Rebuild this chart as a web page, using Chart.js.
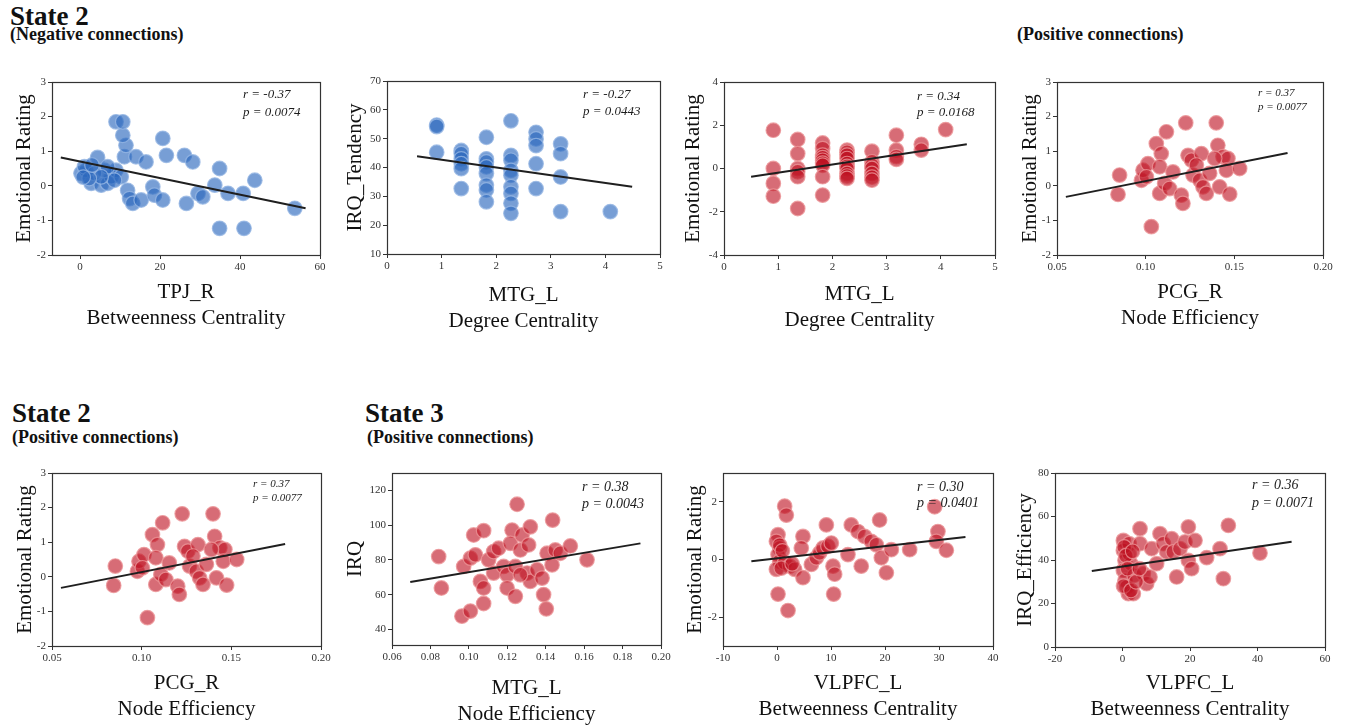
<!DOCTYPE html>
<html>
<head>
<meta charset="utf-8">
<script src="https://cdn.jsdelivr.net/npm/chart.js@4.4.1/dist/chart.umd.min.js"></script>
<style>
  html, body { margin: 0; padding: 0; background: #ffffff; overflow: hidden; }
  body { width: 1348px; height: 725px; position: relative;
         font-family: "Liberation Serif", "Times New Roman", serif; color: #111; }
  .head { position: absolute; font-weight: bold; white-space: nowrap; line-height: 1; }
  .state { font-size: 27px; }
  .sub { font-size: 18px; }
  canvas { position: absolute; }
</style>
</head>
<body>
<div class="head state" style="left:10px;top:3px">State 2</div>
<div class="head sub" style="left:10px;top:25px">(Negative connections)</div>
<div class="head sub" style="left:1017px;top:25px">(Positive connections)</div>
<div class="head state" style="left:12px;top:400px">State 2</div>
<div class="head sub" style="left:12px;top:428px">(Positive connections)</div>
<div class="head state" style="left:365px;top:400px">State 3</div>
<div class="head sub" style="left:367px;top:428px">(Positive connections)</div>

<script>
// ---------- State 2, negative connections: TPJ_R betweenness vs emotional rating ----------
const tpjBetweenness = [0.25,1.5,4.4,2.8,5.3,6.9,7.8,9.0,10.3,11.1,11.5,10.7,9.0,10.7,6.1,1.1,3.6,11.9,12.4,13.2,
  15.3,14.0,16.5,18.2,18.6,20.7,20.7,21.6,26.1,28.2,26.6,29.5,30.7,34.9,33.7,37.0,40.8,43.7,34.9,41.0,
  53.7,6.9,8.6,5.3,2.3,0.8,3.0];
const tpjEmotion = [0.36,0.45,0.82,0.07,0.02,0.07,0.26,0.45,0.26,0.84,1.17,1.46,1.85,1.85,0.45,0.55,0.36,-0.13,-0.37,-0.51,
  -0.41,0.84,0.69,-0.03,-0.27,-0.41,1.37,0.88,0.88,0.69,-0.51,-0.22,-0.32,0.50,0.02,-0.22,-0.22,0.16,-1.23,-1.23,
  -0.65,0.55,0.16,0.26,0.21,0.25,0.60];
const fitTpjX = [-4.8, 56.4];
const fitTpjY = [0.82, -0.65];
const statTpj = ['r = -0.37', 'p = 0.0074'];

// ---------- State 2, negative connections: MTG_L degree vs IRQ_Tendency ----------
const mtgDegreeNeg = [0.91,0.91,0.91, 1.36,1.36,1.36,1.36,1.36,1.36,
  1.82,1.82,1.82,1.82,1.82,1.82,1.82,1.82, 2.27,2.27,2.27,2.27,2.27,2.27,2.27,2.27,2.27,
  2.73,2.73,2.73,2.73,2.73, 3.18,3.18,3.18,3.18, 4.09];
const irqTendency = [54.7,54.2,45.3, 45.9,44.8,43.0,41.3,39.6,32.7,
  50.5,43.0,41.9,40.2,37.9,33.9,32.2,28.1, 56.2,44.2,42.5,39.0,37.3,33.3,31.0,27.6,24.1,
  52.2,49.9,47.6,41.3,32.7, 48.2,44.8,36.7,24.7, 24.7];
const fitDegNegX = [0.55, 4.49];
const fitDegNegY = [43.9, 33.3];
const statDegNeg = ['r = -0.27', 'p = 0.0443'];

// ---------- State 2, positive connections: MTG_L degree vs emotional rating ----------
const mtgDegreePos = [0.91,0.91,0.91,0.91, 1.36,1.36,1.36,1.36,1.36,1.36,
  1.82,1.82,1.82,1.82,1.82,1.82,1.82,1.82,1.82, 2.27,2.27,2.27,2.27,2.27,2.27,2.27,2.27,2.27,2.27,
  2.73,2.73,2.73,2.73,2.73,2.73,2.73, 3.18,3.18,3.18,3.18, 3.64,3.64, 4.09];
const mtgEmotion = [1.77,0,-0.69,-1.28, 1.34,0.69,0,-0.15,-0.38,-1.85,
  1.18,0.92,0.62,0.50,0.38,0.25,0.15,-0.38,-1.23, 0.85,0.75,0.62,0.46,0.23,0.10,0,-0.23,-0.35,-0.46,
  0.80,0.31,0.15,0,-0.23,-0.40,-0.54, 1.54,0.85,0.55,0.42, 1.12,0.85, 1.80];
const fitDegPosX = [0.5, 4.48];
const fitDegPosY = [-0.38, 1.12];
const statDegPos = ['r = 0.34', 'p = 0.0168'];

// ---------- State 2, positive connections: PCG_R node efficiency vs emotional rating ----------
const pcgEfficiency = [0.0853,0.0844,0.0976,0.0985,0.1013,0.1004,0.1060,0.1088,0.1117,0.1032,
  0.1079,0.1079,0.1107,0.1135,0.1154,0.1201,0.1210,0.1226,0.1239,0.1258,
  0.1267,0.1314,0.1305,0.1323,0.1342,0.1361,0.1398,0.1407,0.1417,0.1436,
  0.1464,0.1455,0.1474,0.1530,0.1389,0.1286];
const pcgEmotion = [0.31,-0.25,0.16,0.45,0.64,0.26,1.22,0.93,1.56,-1.18,
  0.55,-0.22,0.07,-0.08,0.40,-0.27,-0.51,1.82,0.88,0.74,
  0.31,0.93,0.16,-0.03,-0.22,0.36,1.82,1.17,-0.03,0.84,
  0.79,0.45,-0.24,0.50,0.79,0.60];
const fitPcgX = [0.055, 0.180];
const fitPcgY = [-0.32, 0.95];
const statPcg = ['r = 0.37', 'p = 0.0077'];

// ---------- State 3, positive connections: MTG_L node efficiency vs IRQ ----------
const mtgEfficiency = [0.0843,0.0857,0.0964,0.1008,0.0973,0.1008,0.1034,0.1025,0.1077,0.1060,
  0.1077,0.1077,0.1103,0.1129,0.1155,0.1129,0.1181,0.1199,0.1199,0.1225,
  0.1216,0.1242,0.1251,0.1268,0.1277,0.1303,0.1311,0.1320,0.1320,0.1355,
  0.1381,0.1389,0.1403,0.1407,0.1433,0.1436,0.1450,0.1476,0.1528,0.1615,
  0.1242,0.1268];
const irqTotal = [81.9,63.8,47.6,50.5,76.2,81.0,82.9,94.3,96.8,67.6,
  63.8,54.9,80.0,84.8,86.7,72.4,76.2,71.4,63.8,97.1,
  89.5,59.0,112.0,85.7,94.3,72.4,88.6,99.0,67.6,74.3,
  69.5,60.0,51.8,83.8,77.1,102.9,85.7,83.8,88.0,80.0,
  76.2,71.4];
const fitMtgEffX = [0.0695, 0.1893];
const fitMtgEffY = [67.2, 89.5];
const statMtgEff = ['r = 0.38', 'p = 0.0043'];

// ---------- State 3, positive connections: VLPFC_L betweenness vs emotional rating ----------
const vlpfcBetweenEmo = [0.19,-0.12,0.49,0.19,0.49,-0.12,0.19,1.42,1.73,1.42,
  2.04,2.35,3.27,4.81,4.50,4.81,6.36,7.28,7.90,8.52,
  9.14,9.44,10.06,10.37,10.68,10.49,13.14,13.75,14.99,15.60,
  16.23,17.46,18.40,19.00,19.32,20.25,21.17,24.57,29.20,29.80,
  29.50,31.36,0.50,0.80,1.00,2.80];
const vlpfcEmotion = [0.86,0.63,0.40,0.17,-0.06,-0.34,-1.20,1.85,1.54,-0.11,
  -1.77,-0.23,-0.34,0.80,0.40,-0.63,-0.17,0.06,0.23,0.40,
  1.20,0.46,0.57,-0.23,-0.51,-1.20,0.17,1.20,0.97,-0.23,
  0.80,0.63,0.51,1.37,0.06,-0.46,0.34,0.34,1.83,0.97,
  0.63,0.32,0.50,-0.30,0.30,-0.15];
const fitVlpfcEmoX = [-4.75, 34.9];
const fitVlpfcEmoY = [-0.06, 0.78];
const statVlpfcEmo = ['r = 0.30', 'p = 0.0401'];

// ---------- State 3, positive connections: VLPFC_L betweenness vs IRQ_Efficiency ----------
const vlpfcBetweenIrq = [0.25,0.25,0.74,0.25,0.74,1.23,1.73,3.21,1.98,2.47,
  3.46,5.19,5.19,6.17,7.16,8.15,8.64,10.12,11.11,12.10,
  13.09,14.57,15.06,16.05,17.04,18.52,19.51,19.51,20.49,21.48,
  24.94,28.89,29.88,31.36,40.74,1.98,0.50,1.00,1.50,0.30,
  2.50,4.00,5.00,3.00];
const irqEfficiency = [49.0,44.4,39.8,35.2,30.7,27.6,24.5,24.5,47.5,38.3,
  33.0,54.4,47.5,33.7,29.1,32.2,45.2,38.3,52.1,47.5,
  43.7,49.8,43.7,32.2,45.2,48.3,55.2,39.8,36.0,49.0,
  41.1,45.2,31.4,55.9,43.2,42.9,46.0,42.0,36.0,28.0,
  26.0,30.0,36.0,44.0];
const fitVlpfcIrqX = [-9.1, 50.1];
const fitVlpfcIrqY = [34.9, 48.4];
const statVlpfcIrq = ['r = 0.36', 'p = 0.0071'];

// ---------- axis tick labels ----------
const tpjXTicks = ['0','20','40','60'];
const ratingYTicks = ['-2','-1','0','1','2','3'];
const degreeXTicks = ['0','1','2','3','4','5'];
const tendencyYTicks = ['10','20','30','40','50','60','70'];
const wideRatingYTicks = ['-4','-2','0','2','4'];
const pcgXTicks = ['0.05','0.10','0.15','0.20'];
const mtgEffXTicks = ['0.06','0.08','0.10','0.12','0.14','0.16','0.18','0.20'];
const irqYTicks = ['40','60','80','100','120'];
const vlpfcEmoXTicks = ['-10','0','10','20','30','40'];
const vlpfcEmoYTicks = ['-2','0','2'];
const vlpfcIrqXTicks = ['-20','0','20','40','60'];
const irqEffYTicks = ['0','20','40','60','80'];

// ---------- styling ----------
const SERIF = '"Liberation Serif", "Times New Roman", serif';
Chart.defaults.font.family = SERIF;
const BLUE = { fill: 'rgba(42,104,190,0.64)', edge: 'rgba(150,182,228,0.8)' };
const RED  = { fill: 'rgba(190,18,34,0.62)', edge: 'rgba(236,150,152,0.8)' };
const AXIS_COLOR = '#333333';
const Y_AXIS_W = 50, PAD_T = 10, PAD_R = 12, X_AXIS_H = 84;
const X_TITLE_SIZE = 21, X_TITLE_LH = 1.2, Y_TITLE_SIZE = 21;

const panels = [
  { box: [52, 82, 320, 255], xs: tpjBetweenness, ys: tpjEmotion, fx: fitTpjX, fy: fitTpjY, col: BLUE,
    xr: [-7, 60], yr: [-2, 3], xt: tpjXTicks, yt: ratingYTicks,
    xTitle: ['TPJ_R', 'Betweenness Centrality'], yTitle: 'Emotional Rating',
    stat: statTpj, statSize: 13, statDx: 77, statDy: [13, 31], yGap: 28, xLine2: 318 },
  { box: [387, 81, 660, 254], xs: mtgDegreeNeg, ys: irqTendency, fx: fitDegNegX, fy: fitDegNegY, col: BLUE,
    xr: [0, 5], yr: [10, 70], xt: degreeXTicks, yt: tendencyYTicks,
    xTitle: ['MTG_L', 'Degree Centrality'], yTitle: 'IRQ_Tendency',
    stat: statDegNeg, statSize: 13, statDx: 77, statDy: [14, 31], yGap: 32, xLine2: 321 },
  { box: [724, 82, 995, 255], xs: mtgDegreePos, ys: mtgEmotion, fx: fitDegPosX, fy: fitDegPosY, col: RED,
    xr: [0, 5], yr: [-4, 4], xt: degreeXTicks, yt: wideRatingYTicks,
    xTitle: ['MTG_L', 'Degree Centrality'], yTitle: 'Emotional Rating',
    stat: statDegPos, statSize: 13, statDx: 78, statDy: [15, 31], yGap: 31, xLine2: 320 },
  { box: [1057, 82, 1323, 255], xs: pcgEfficiency, ys: pcgEmotion, fx: fitPcgX, fy: fitPcgY, col: RED,
    xr: [0.05, 0.20], yr: [-2, 3], xt: pcgXTicks, yt: ratingYTicks,
    xTitle: ['PCG_R', 'Node Efficiency'], yTitle: 'Emotional Rating',
    stat: statPcg, statSize: 11, statDx: 65, statDy: [11, 25], yGap: 27, xLine2: 318 },
  { box: [52, 473, 321, 646], xs: pcgEfficiency, ys: pcgEmotion, fx: fitPcgX, fy: fitPcgY, col: RED,
    xr: [0.05, 0.20], yr: [-2, 3], xt: pcgXTicks, yt: ratingYTicks,
    xTitle: ['PCG_R', 'Node Efficiency'], yTitle: 'Emotional Rating',
    stat: statPcg, statSize: 11, statDx: 68, statDy: [11, 25], yGap: 27, xLine2: 709 },
  { box: [392, 473, 661, 645], xs: mtgEfficiency, ys: irqTotal, fx: fitMtgEffX, fy: fitMtgEffY, col: RED,
    xr: [0.06, 0.20], yr: [31, 130], xt: mtgEffXTicks, yt: irqYTicks,
    xTitle: ['MTG_L', 'Node Efficiency'], yTitle: 'IRQ',
    stat: statMtgEff, statSize: 14, statDx: 79, statDy: [14, 31], yGap: 37, xLine2: 714 },
  { box: [723, 473, 993, 646], xs: vlpfcBetweenEmo, ys: vlpfcEmotion, fx: fitVlpfcEmoX, fy: fitVlpfcEmoY, col: RED,
    xr: [-10, 40], yr: [-3, 3], xt: vlpfcEmoXTicks, yt: vlpfcEmoYTicks,
    xTitle: ['VLPFC_L', 'Betweenness Centrality'], yTitle: 'Emotional Rating',
    stat: statVlpfcEmo, statSize: 14, statDx: 76, statDy: [14, 30], yGap: 28, xLine2: 709 },
  { box: [1055, 473, 1325, 647], xs: vlpfcBetweenIrq, ys: irqEfficiency, fx: fitVlpfcIrqX, fy: fitVlpfcIrqY, col: RED,
    xr: [-20, 60], yr: [0, 80], xt: vlpfcIrqXTicks, yt: irqEffYTicks,
    xTitle: ['VLPFC_L', 'Betweenness Centrality'], yTitle: 'IRQ_Efficiency',
    stat: statVlpfcIrq, statSize: 14, statDx: 73, statDy: [12, 30], yGap: 30, xLine2: 709 }
];

function tickScale(labels, range, afterFitFn, title) {
  return {
    type: 'linear',
    min: range[0],
    max: range[1],
    afterBuildTicks: (s) => { s.ticks = labels.map(t => ({ value: Number(t) })); },
    afterFit: afterFitFn,
    ticks: {
      autoSkip: false, maxRotation: 0, minRotation: 0, padding: 2,
      color: AXIS_COLOR, font: { size: 11, family: SERIF },
      callback: (v) => {
        const hit = labels.find(t => Math.abs(Number(t) - v) < 1e-9);
        return hit === undefined ? '' : hit;
      }
    },
    grid: { display: true, drawOnChartArea: false, drawTicks: true, tickLength: 4, color: AXIS_COLOR, lineWidth: 1 },
    border: { display: true, color: AXIS_COLOR, width: 1 },
    title: title
  };
}

function buildPanel(p) {
  const [l, t, r, b] = p.box;
  const W = (r - l) + Y_AXIS_W + PAD_R;
  const H = (b - t) + PAD_T + X_AXIS_H;
  const cv = document.createElement('canvas');
  cv.width = W; cv.height = H;
  cv.style.left = (l - Y_AXIS_W) + 'px';
  cv.style.top = (t - PAD_T) + 'px';
  cv.style.width = W + 'px';
  cv.style.height = H + 'px';
  document.body.appendChild(cv);

  const xLineH = X_TITLE_SIZE * X_TITLE_LH;
  const xTitlePadBottom = (b + X_AXIS_H) - p.xLine2 - xLineH / 2;
  const yTitlePadTop = Y_AXIS_W - p.yGap - Y_TITLE_SIZE / 2;

  // r / p statistics in the upper right corner, plus a closed frame round the plot area
  const frameAndStats = {
    id: 'frameAndStats',
    afterDatasetsDraw(chart) {
      const { ctx, chartArea: a } = chart;
      ctx.save();
      ctx.fillStyle = '#1c1c1c';
      ctx.font = 'italic ' + p.statSize + 'px ' + SERIF;
      ctx.textAlign = 'left';
      ctx.textBaseline = 'middle';
      p.stat.forEach((s, i) => ctx.fillText(s, a.right - p.statDx, a.top + p.statDy[i]));
      ctx.restore();
    },
    afterDraw(chart) {
      const { ctx, chartArea: a } = chart;
      ctx.save();
      ctx.strokeStyle = AXIS_COLOR;
      ctx.lineWidth = 1.2;
      ctx.strokeRect(Math.round(a.left) + 0.5, Math.round(a.top) + 0.5,
                     Math.round(a.right - a.left), Math.round(a.bottom - a.top));
      ctx.restore();
    }
  };

  new Chart(cv, {
    type: 'scatter',
    data: {
      datasets: [
        {
          type: 'line',
          data: p.fx.map((x, i) => ({ x, y: p.fy[i] })),
          showLine: true,
          borderColor: '#1f1f1f',
          borderWidth: 2,
          pointRadius: 0,
          fill: false,
          tension: 0
        },
        {
          data: p.xs.map((x, i) => ({ x, y: p.ys[i] })),
          backgroundColor: p.col.fill,
          borderColor: p.col.edge,
          borderWidth: 1.2,
          pointRadius: 7.3
        }
      ]
    },
    options: {
      responsive: false,
      animation: false,
      events: [],
      layout: { padding: { left: 0, top: PAD_T, right: PAD_R, bottom: 0 } },
      plugins: { legend: { display: false }, tooltip: { enabled: false } },
      scales: {
        x: tickScale(p.xt, p.xr, (s) => { s.height = X_AXIS_H; }, {
          display: true, text: p.xTitle, color: '#111',
          font: { size: X_TITLE_SIZE, family: SERIF, lineHeight: X_TITLE_LH },
          padding: { top: 0, bottom: xTitlePadBottom }
        }),
        y: tickScale(p.yt, p.yr, (s) => { s.width = Y_AXIS_W; }, {
          display: true, text: p.yTitle, color: '#111',
          font: { size: Y_TITLE_SIZE, family: SERIF, lineHeight: 1 },
          padding: { top: yTitlePadTop, bottom: 0 }
        })
      }
    },
    plugins: [frameAndStats]
  });
}

panels.forEach(buildPanel);
</script>
</body>
</html>
